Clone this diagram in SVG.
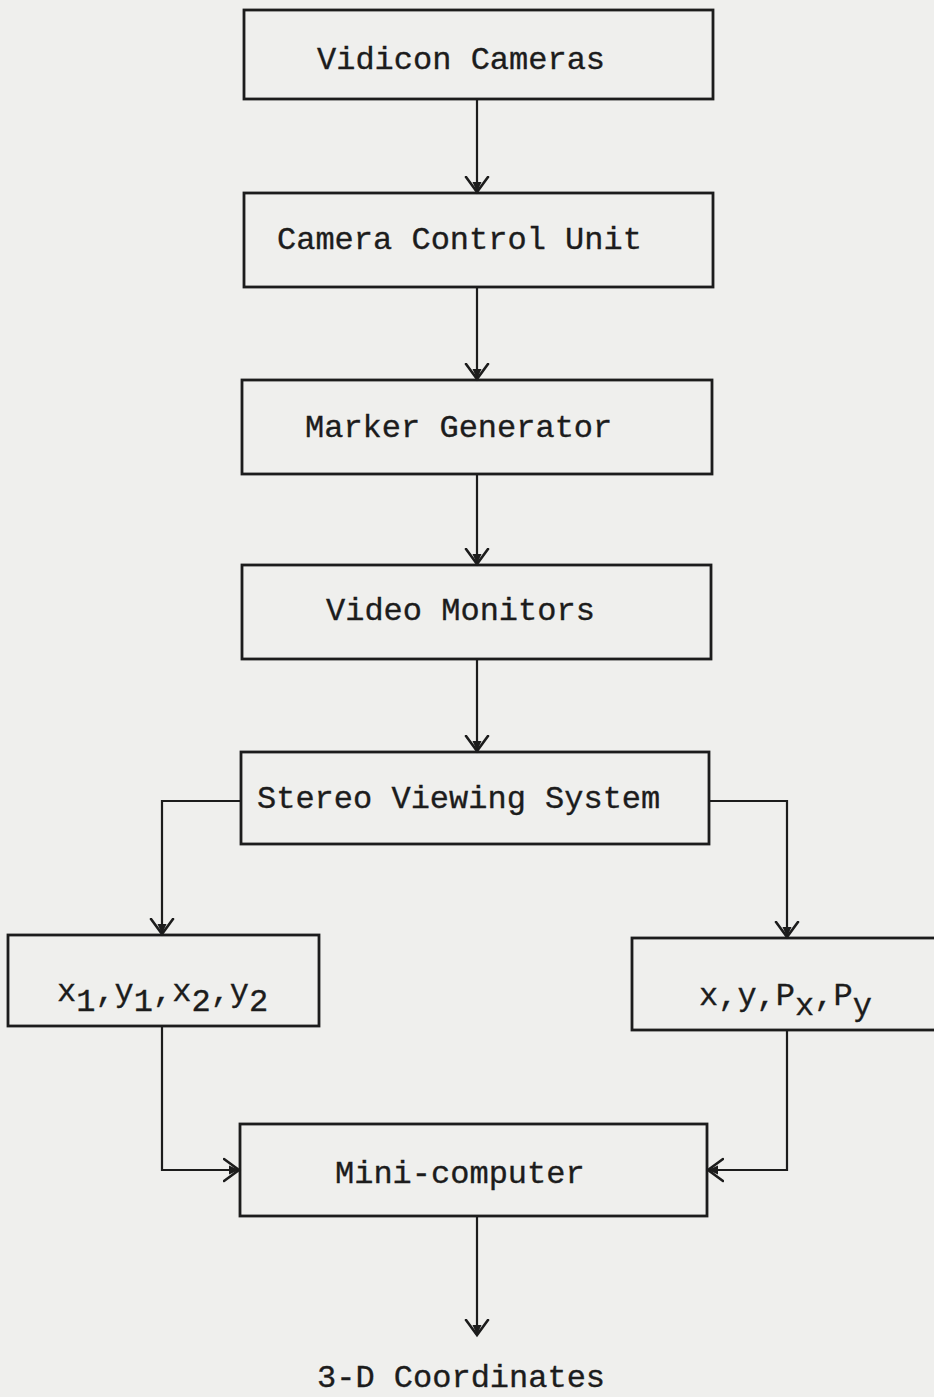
<svg xmlns="http://www.w3.org/2000/svg" width="934" height="1397" viewBox="0 0 934 1397">
  <defs>
    <!-- typewriter-style open arrowhead with a small solid tip -->
    <marker id="arrow" markerUnits="userSpaceOnUse" markerWidth="32" markerHeight="32" viewBox="-16 -16 32 32" refX="0" refY="0" orient="auto">
      <path d="M-15,-11 L0,0 L-15,11" fill="none" stroke="#1c1c1c" stroke-width="2.6" stroke-linecap="round"/>
      <path d="M-10,-4.5 L0,0 L-10,4.5 Z" fill="#1c1c1c"/>
    </marker>
    <style>
      .box { fill: none; stroke: #1c1c1c; stroke-width: 2.8; }
      .wire { fill: none; stroke: #1c1c1c; stroke-width: 2.2; }
      .lbl { font-family: "Liberation Mono", "Courier New", monospace; font-size: 32px; fill: #1c1c1c; stroke: #1c1c1c; stroke-width: 0.35; }
    </style>
  </defs>

  <rect x="0" y="0" width="934" height="1397" fill="#efefed"/>

  <g id="vidicon-cameras">
    <rect class="box" x="244" y="10" width="469" height="89"/>
    <text class="lbl" x="317" y="69">Vidicon Cameras</text>
  </g>

  <g id="camera-control-unit">
    <rect class="box" x="244" y="193" width="469" height="94"/>
    <text class="lbl" x="277" y="249">Camera Control Unit</text>
  </g>

  <g id="marker-generator">
    <rect class="box" x="242" y="380" width="470" height="94"/>
    <text class="lbl" x="305" y="437">Marker Generator</text>
  </g>

  <g id="video-monitors">
    <rect class="box" x="242" y="565" width="469" height="94"/>
    <text class="lbl" x="326" y="620">Video Monitors</text>
  </g>

  <g id="stereo-viewing-system">
    <rect class="box" x="241" y="752" width="468" height="92"/>
    <text class="lbl" x="257" y="808">Stereo Viewing System</text>
  </g>

  <g id="image-coordinates">
    <rect class="box" x="8" y="935" width="311" height="91"/>
    <text class="lbl" x="57" y="1001">x<tspan dy="10">1</tspan><tspan dy="-10">,y</tspan><tspan dy="10">1</tspan><tspan dy="-10">,x</tspan><tspan dy="10">2</tspan><tspan dy="-10">,y</tspan><tspan dy="10">2</tspan></text>
  </g>

  <g id="parallax-coordinates">
    <rect class="box" x="632" y="938" width="310" height="92"/>
    <text class="lbl" x="699" y="1005">x,y,P<tspan dy="10">x</tspan><tspan dy="-10">,P</tspan><tspan dy="10">y</tspan></text>
  </g>

  <g id="mini-computer">
    <rect class="box" x="240" y="1124" width="467" height="92"/>
    <text class="lbl" x="335" y="1183">Mini-computer</text>
  </g>

  <g id="output-3d">
    <text class="lbl" x="317" y="1387">3-D Coordinates</text>
  </g>

  <g id="connectors">
    <path class="wire" d="M477,99 L477,192" marker-end="url(#arrow)"/>
    <path class="wire" d="M477,287 L477,379" marker-end="url(#arrow)"/>
    <path class="wire" d="M477,474 L477,564" marker-end="url(#arrow)"/>
    <path class="wire" d="M477,659 L477,751" marker-end="url(#arrow)"/>
    <path class="wire" d="M241,801 L162,801 L162,934" marker-end="url(#arrow)"/>
    <path class="wire" d="M709,801 L787,801 L787,937" marker-end="url(#arrow)"/>
    <path class="wire" d="M162,1026 L162,1170 L239,1170" marker-end="url(#arrow)"/>
    <path class="wire" d="M787,1030 L787,1170 L708,1170" marker-end="url(#arrow)"/>
    <path class="wire" d="M477,1216 L477,1335" marker-end="url(#arrow)"/>
  </g>
</svg>
